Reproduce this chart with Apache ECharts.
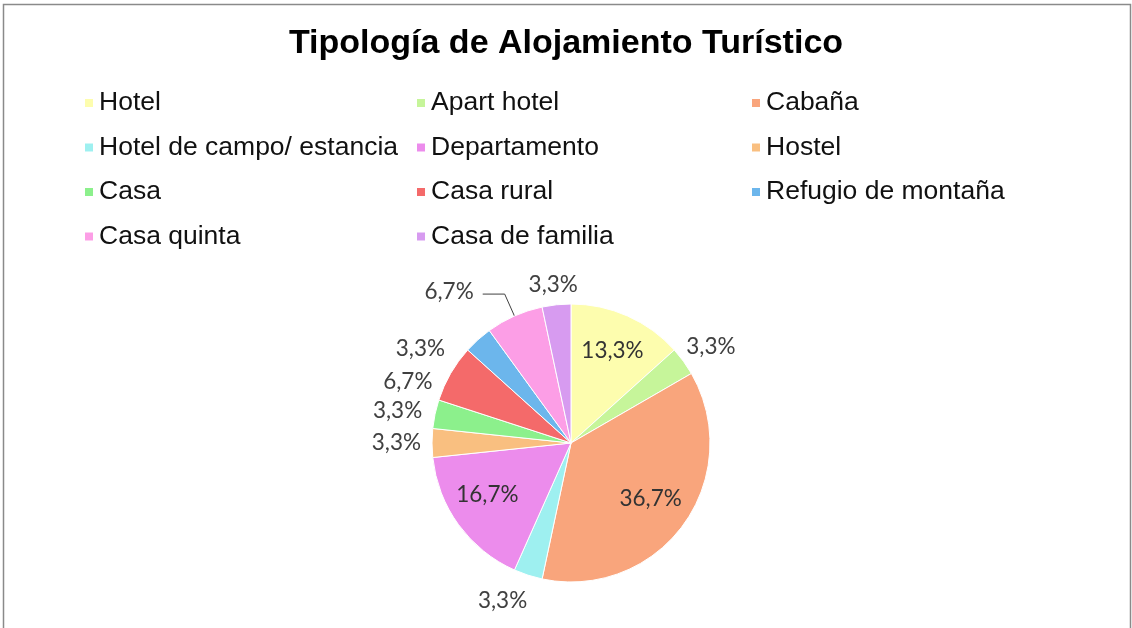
<!DOCTYPE html>
<html>
<head>
<meta charset="utf-8">
<script src="https://cdn.jsdelivr.net/npm/echarts@6/dist/echarts.min.js"></script>
<style>
html,body{margin:0;padding:0;background:#fff;}
#chart{width:1132px;height:628px;}
</style>
</head>
<body>
<div id="chart"></div>
<script>
// ---- data ----
var titleText = 'Tipología de Alojamiento Turístico';
var categories = ['Hotel','Apart hotel','Cabaña','Hotel de campo/ estancia','Departamento','Hostel','Casa','Casa rural','Refugio de montaña','Casa quinta','Casa de familia'];
var counts = [4, 1, 11, 1, 5, 1, 1, 2, 1, 2, 1];
var colors = ['#fdfdae','#c6f59a','#f9a57c','#9ef0f0','#ec8cec','#f9bf80','#8cf08c','#f46a6a','#6cb6ec','#fc9ee6','#d79bf0'];
var legendCol1 = ['Hotel','Hotel de campo/ estancia','Casa','Casa quinta'];
var legendCol2 = ['Apart hotel','Departamento','Casa rural','Casa de familia'];
var legendCol3 = ['Cabaña','Hostel','Refugio de montaña'];

// ---- label styling per slice (positioning tweaks only) ----
var insideSet = {'Hotel':[12,-26],'Cabaña':[21,13],'Departamento':[-25,9]};
var outsideOffset = {
  'Apart hotel':[-7,-11],
  'Hotel de campo/ estancia':[6,20],
  'Hostel':[0,0],
  'Casa':[-2,-2],
  'Casa rural':[-8,11],
  'Refugio de montaña':[-24,14],
  'Casa de familia':[27,-14]
};

var total = counts.reduce(function(a,b){return a+b;},0);
function fmt(p){ return (Math.round(p*10)/10).toFixed(1).replace('.',',') + '%'; }

var seriesData = categories.map(function(name,i){
  var item = {name:name, value:counts[i], itemStyle:{color:colors[i]}};
  if (insideSet[name]) {
    item.label = {position:'inside', offset:insideSet[name], color:'#333333'};
  } else if (name === 'Casa quinta') {
    item.label = {position:'outside', offset:[-4,-2]};
    item.labelLine = {show:true, length:24, length2:22, lineStyle:{color:'#404040', width:1}};
  } else {
    item.label = {position:'outside', offset:outsideOffset[name] || [0,0]};
    item.labelLine = {show:false, length:6, length2:0};
  }
  return item;
});

var legendBase = {
  orient:'vertical', top:88, padding:0,
  itemWidth:10, itemHeight:10, itemGap:14.5, icon:'rect',
  selectedMode:false,
  textStyle:{fontFamily:'Liberation Sans', fontSize:26.5, lineHeight:30, color:'#111111'}
};
function mkLegend(left, data){
  var o = JSON.parse(JSON.stringify(legendBase));
  o.left = left; o.data = data; return o;
}

var chart = echarts.init(document.getElementById('chart'), null, {renderer:'canvas'});
chart.setOption({
  backgroundColor:'#ffffff',
  animation:false,
  title:{
    text:titleText, left:'center', top:22,
    textStyle:{fontFamily:'Liberation Sans', fontWeight:'bold', fontSize:34, color:'#000000'}
  },
  legend:[mkLegend(83, legendCol1), mkLegend(415, legendCol2), mkLegend(750, legendCol3)],
  graphic:[{
    type:'rect', silent:true,
    shape:{x:3.5, y:4.5, width:1127, height:700},
    style:{fill:'none', stroke:'#8a8a8a', lineWidth:1.5}
  }],
  series:[{
    type:'pie',
    center:[571,443],
    radius:[0,139],
    startAngle:90,
    clockwise:true,
    avoidLabelOverlap:false,
    itemStyle:{borderColor:'#ffffff', borderWidth:1},
    label:{
      show:true, fontFamily:'Lato', fontSize:22.5, color:'#404040',
      formatter:function(p){ return fmt(p.value/total*100); }
    },
    labelLine:{show:false},
    emphasis:{disabled:true},
    data:seriesData
  }]
});
</script>
</body>
</html>
